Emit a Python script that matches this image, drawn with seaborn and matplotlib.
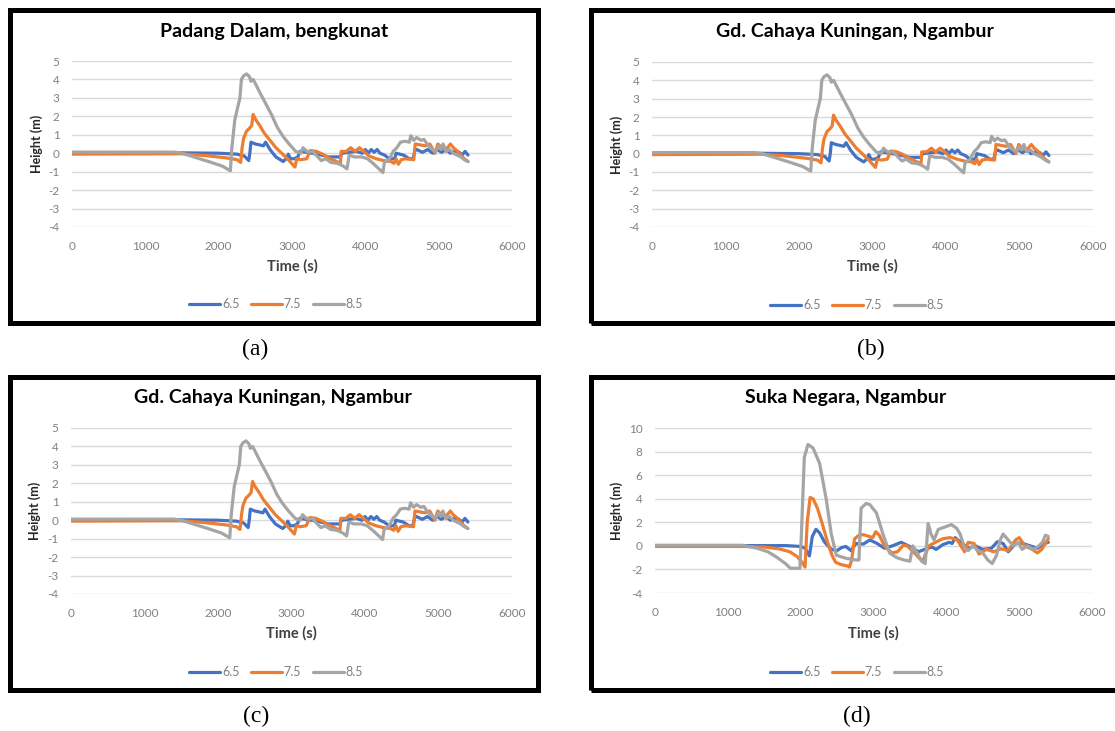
import matplotlib
matplotlib.use("Agg")
from matplotlib import pyplot as plt
from matplotlib.patches import Rectangle
import pandas as pd
import seaborn as sns

# (time s, height m), stations a/b/c share one record
abc_65 = [(0, 0.02), (1500, 0.02), (2000, 0.0), (2250, -0.05), (2350, -0.15), (2410, -0.4),
          (2425, 0.0), (2440, 0.6), (2500, 0.5), (2560, 0.45), (2610, 0.4), (2640, 0.6),
          (2700, 0.2), (2780, -0.2), (2880, -0.45), (2920, -0.3), (2950, -0.05), (2980, -0.3),
          (3030, -0.3), (3080, -0.2), (3110, 0.1), (3200, 0.05), (3350, -0.05), (3500, -0.2),
          (3660, -0.2), (3680, 0.0), (3780, 0.05), (3880, 0.1), (3960, 0.0), (4000, 0.2),
          (4040, 0.0), (4080, 0.2), (4120, 0.05), (4160, 0.2), (4200, 0.0), (4260, -0.1),
          (4330, -0.3), (4400, -0.3), (4420, 0.0), (4520, -0.1), (4600, -0.3), (4650, -0.3),
          (4680, 0.2), (4700, 0.2), (4780, 0.05), (4850, 0.2), (4920, 0.0), (4980, 0.2),
          (5040, 0.05), (5100, 0.2), (5160, 0.0), (5220, 0.1), (5280, 0.05), (5320, -0.1),
          (5360, 0.1), (5400, -0.1)]
abc_75 = [(0, -0.05), (1500, -0.03), (1800, -0.12), (2100, -0.25), (2250, -0.35), (2300, -0.5),
          (2320, 0.3), (2340, 0.8), (2380, 1.2), (2420, 1.35), (2450, 1.5), (2470, 2.1),
          (2500, 1.85), (2560, 1.5), (2620, 1.1), (2700, 0.7), (2780, 0.3), (2860, 0.0),
          (2950, -0.35), (3040, -0.75), (3065, -0.3), (3120, -0.35), (3200, -0.3), (3250, 0.15),
          (3330, 0.1), (3420, -0.05), (3500, -0.25), (3580, -0.4), (3660, -0.55), (3670, 0.1),
          (3740, 0.1), (3800, 0.3), (3860, 0.1), (3920, 0.3), (3980, 0.1), (4050, -0.15),
          (4150, -0.3), (4250, -0.4), (4350, -0.45), (4390, -0.55), (4420, -0.3), (4450, -0.6),
          (4490, -0.35), (4550, -0.3), (4660, -0.35), (4680, 0.5), (4750, 0.45), (4820, 0.4),
          (4880, 0.5), (4950, 0.0), (4990, 0.5), (5040, 0.3), (5100, 0.2), (5160, 0.5),
          (5200, 0.3), (5260, 0.1), (5300, -0.1), (5350, -0.3), (5400, -0.45)]
abc_85 = [(0, 0.06), (1400, 0.06), (1500, 0.0), (1700, -0.25), (1900, -0.5), (2050, -0.7),
          (2160, -0.95), (2180, 0.3), (2220, 1.8), (2260, 2.5), (2290, 3.0), (2310, 4.0),
          (2340, 4.2), (2380, 4.3), (2420, 4.15), (2440, 3.9), (2470, 4.0), (2510, 3.7),
          (2560, 3.3), (2640, 2.7), (2720, 2.1), (2800, 1.4), (2880, 0.9), (2960, 0.5),
          (3050, 0.1), (3120, 0.0), (3150, 0.3), (3200, 0.1), (3280, 0.1), (3340, -0.15),
          (3400, -0.4), (3460, -0.3), (3530, -0.5), (3620, -0.55), (3700, -0.7), (3750, -0.85),
          (3780, -0.1), (3850, -0.2), (3950, -0.2), (4030, -0.3), (4120, -0.6), (4200, -0.9),
          (4240, -1.05), (4260, -0.5), (4330, -0.3), (4380, 0.1), (4430, 0.3), (4480, 0.6),
          (4540, 0.65), (4600, 0.6), (4620, 0.95), (4660, 0.7), (4700, 0.85), (4760, 0.7),
          (4800, 0.75), (4860, 0.4), (4920, 0.2), (4960, 0.1), (5000, 0.4), (5030, 0.2),
          (5060, 0.5), (5100, 0.1), (5150, 0.2), (5200, 0.0), (5250, -0.1), (5300, -0.2),
          (5350, -0.35), (5400, -0.45)]

# Suka Negara (d)
d_65 = [(0, 0.02), (1800, 0.02), (2000, -0.05), (2060, -0.2), (2120, -0.85), (2160, 0.8),
        (2210, 1.4), (2260, 1.1), (2330, 0.3), (2420, -0.3), (2500, -0.4), (2560, -0.15),
        (2620, -0.05), (2690, -0.4), (2760, 0.2), (2860, 0.15), (2950, 0.5), (3050, 0.2),
        (3150, -0.2), (3260, 0.0), (3380, 0.3), (3480, 0.0), (3620, -0.5), (3700, -0.3),
        (3800, -0.1), (3860, -0.3), (3950, 0.1), (4040, 0.3), (4080, 0.2), (4120, 0.7),
        (4200, 0.3), (4300, -0.2), (4400, 0.0), (4500, -0.3), (4620, -0.2), (4700, 0.35),
        (4780, 0.2), (4850, -0.5), (4950, 0.2), (5050, 0.2), (5150, 0.0), (5250, -0.2),
        (5350, 0.2), (5400, 0.3)]
d_75 = [(0, -0.05), (1200, -0.05), (1500, -0.1), (1700, -0.25), (1850, -0.5), (1950, -0.9),
        (2020, -1.4), (2060, -1.8), (2090, 2.0), (2130, 4.1), (2170, 4.0), (2230, 3.2),
        (2300, 1.8), (2370, 0.3), (2430, -0.8), (2480, -1.4), (2560, -1.6), (2640, -1.7),
        (2670, -1.8), (2700, -1.2), (2740, 0.6), (2800, 0.9), (2860, 0.95), (2940, 0.8),
        (2990, 0.7), (3030, 1.2), (3080, 0.9), (3150, 0.0), (3250, -0.6), (3330, -0.5),
        (3410, 0.05), (3460, 0.0), (3550, -0.5), (3620, -1.0), (3680, -1.3), (3700, -0.9),
        (3760, 0.0), (3850, 0.3), (3950, 0.6), (4050, 0.7), (4150, 0.5), (4250, -0.5),
        (4300, 0.3), (4380, 0.2), (4450, -0.7), (4550, -0.3), (4650, -0.5), (4750, -0.25),
        (4850, -0.4), (4950, 0.5), (5000, 0.7), (5080, 0.0), (5180, -0.3), (5250, -0.6),
        (5310, -0.3), (5400, 0.6)]
d_85 = [(0, 0.05), (1200, 0.05), (1400, -0.2), (1550, -0.5), (1680, -1.0), (1790, -1.5),
        (1860, -1.9), (1990, -1.9), (2010, 1.0), (2050, 7.5), (2100, 8.6), (2170, 8.3),
        (2260, 7.0), (2350, 4.0), (2420, 1.0), (2490, -0.8), (2620, -1.05), (2760, -1.2),
        (2800, -1.2), (2830, 3.2), (2900, 3.6), (2950, 3.5), (3040, 2.8), (3130, 1.0),
        (3220, -0.6), (3320, -1.0), (3420, -1.2), (3500, -1.3), (3540, 0.0), (3600, -0.6),
        (3660, -1.3), (3710, -1.5), (3750, 1.9), (3790, 1.0), (3830, 0.5), (3890, 1.4),
        (3980, 1.6), (4070, 1.8), (4140, 1.5), (4190, 1.0), (4250, -0.2), (4300, -0.4),
        (4370, 0.0), (4430, -0.4), (4500, -0.6), (4570, -1.2), (4630, -1.5), (4690, -0.8),
        (4740, 0.5), (4780, 1.0), (4850, 0.5), (4920, 0.0), (4990, 0.3), (5040, -0.3),
        (5110, 0.0), (5200, -0.3), (5270, 0.0), (5320, 0.3), (5360, 0.9), (5400, 0.8)]

magnitudes = ['6.5', '7.5', '8.5']
titles = ['Padang Dalam, bengkunat', 'Gd. Cahaya Kuningan, Ngambur',
          'Gd. Cahaya Kuningan, Ngambur', 'Suka Negara, Ngambur']
captions = ['(a)', '(b)', '(c)', '(d)']
x_ticks = [0, 1000, 2000, 3000, 4000, 5000, 6000]
y_ticks_abc = [-4, -3, -2, -1, 0, 1, 2, 3, 4, 5]
y_ticks_d = [-4, -2, 0, 2, 4, 6, 8, 10]

sns.set_style("white")
plt.rcParams['font.family'] = ['Lato', 'DejaVu Sans']
plt.rcParams['axes.unicode_minus'] = False

W, H = 1115, 731
fig = plt.figure(figsize=(W / 100, H / 100), dpi=100)


def fx(px):
    return px / W


def fy(py):
    return 1 - py / H


def long_table(groups):
    rows = []
    for mag, pts in zip(magnitudes, groups):
        for t, h in pts:
            rows.append({'Time': t, 'Height': h, 'Magnitude': mag})
    return pd.DataFrame(rows)


palette = {'6.5': '#4472C4', '7.5': '#ED7D31', '8.5': '#A5A5A5'}
tick_grey = '#808080'

# pixel layout: axes box, frame, title centre, legend centre, caption centre, label spots
panels = [
    dict(ax=(72, 61, 512, 227), frame=(9.5, 9.5, 537.5, 322.5), title=(274, 32),
         legend=(276, 304), caption=(255, 349), ylab=37, xlab=266,
         data=[abc_65, abc_75, abc_85], yt=y_ticks_abc),
    dict(ax=(652, 62, 1093, 227), frame=(590.5, 9.5, 1125, 322.5), title=(855, 32),
         legend=(857, 305), caption=(871, 349), ylab=617, xlab=266,
         data=[abc_65, abc_75, abc_85], yt=y_ticks_abc),
    dict(ax=(71, 428, 512, 594), frame=(9.5, 376.5, 537.5, 690), title=(273, 398),
         legend=(276, 672), caption=(256, 716), ylab=35, xlab=633,
         data=[abc_65, abc_75, abc_85], yt=y_ticks_abc),
    dict(ax=(655, 428, 1092, 593), frame=(590.5, 376.5, 1125, 690), title=(846, 398),
         legend=(857, 672), caption=(857, 716), ylab=617, xlab=633,
         data=[d_65, d_75, d_85], yt=y_ticks_d),
]

for i, p in enumerate(panels):
    x0, y0, x1, y1 = p['ax']
    ax = fig.add_axes([fx(x0), fy(y1), (x1 - x0) / W, (y1 - y0) / H])
    df = long_table(p['data'])
    sns.lineplot(data=df, x='Time', y='Height', hue='Magnitude', hue_order=magnitudes,
                 palette=palette, linewidth=2.3, estimator=None, ax=ax)

    ax.set_xlim(0, 6000)
    ax.set_ylim(p['yt'][0], p['yt'][-1])
    ax.set_xticks(x_ticks)
    ax.set_yticks(p['yt'])
    ax.grid(axis='y', color='#D9D9D9', linewidth=1)
    ax.grid(axis='x', visible=False)
    ax.set_axisbelow(True)
    for s in ax.spines.values():
        s.set_visible(False)
    ax.tick_params(axis='both', length=0, labelsize=8.5, colors=tick_grey)
    ax.tick_params(axis='x', pad=10)
    ax.tick_params(axis='y', pad=9)

    ax.set_xlabel('Time (s)', fontsize=10.5, fontweight='bold', color='#404040')
    ax.xaxis.set_label_coords(0.5, (y1 - p['xlab']) / (y1 - y0))
    ax.xaxis.label.set_va('center')
    ax.set_ylabel('Height (m)', fontsize=9, fontweight='bold', color='#262626')
    ax.yaxis.set_label_coords((p['ylab'] - x0) / (x1 - x0), 0.5)
    ax.yaxis.label.set_va('center')

    handles, labels = ax.get_legend_handles_labels()
    ax.legend(handles, labels, loc='center', bbox_to_anchor=(fx(p['legend'][0]), fy(p['legend'][1])),
              bbox_transform=fig.transFigure, ncol=3, frameon=False, fontsize=9,
              handlelength=2.5, handletextpad=0.15, columnspacing=0.9, labelcolor=tick_grey)

    fig.text(fx(p['title'][0]), fy(p['title'][1]), titles[i], ha='center', va='center',
             fontsize=14, fontweight='bold', color='black')
    fig.text(fx(p['caption'][0]), fy(p['caption'][1]), captions[i], ha='center', va='center',
             fontsize=17, family=['Liberation Serif', 'DejaVu Serif'], color='black')

    fx0, fy0, fx1, fy1 = p['frame']
    fig.patches.append(Rectangle((fx(fx0), fy(fy1)), (fx1 - fx0) / W, (fy1 - fy0) / H,
                                 transform=fig.transFigure, fill=False, lw=3.6,
                                 edgecolor='black'))

fig.savefig('out.png', dpi=100)
